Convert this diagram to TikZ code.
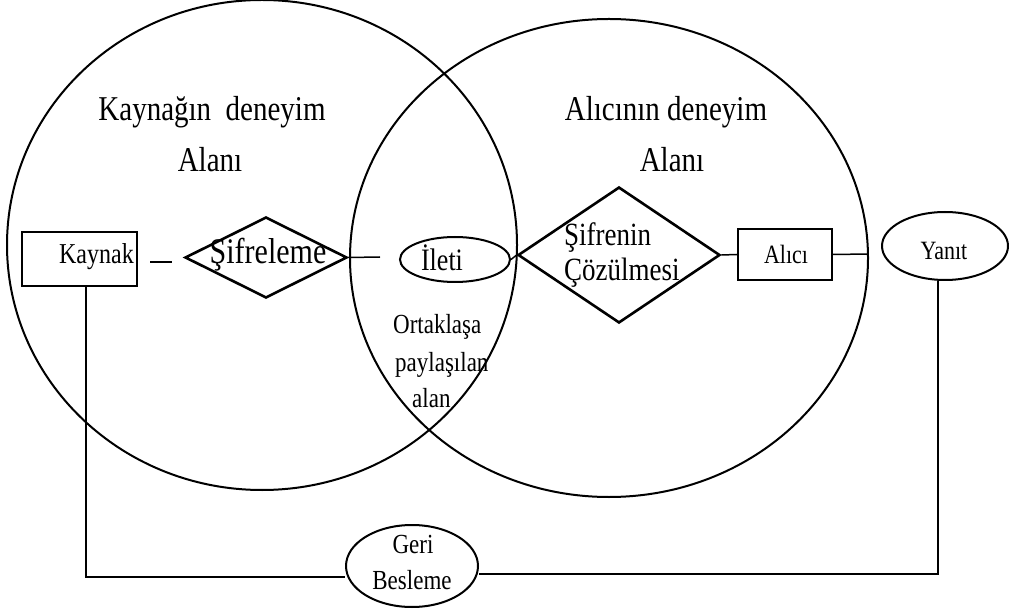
\documentclass[tikz,border=0pt]{standalone}
\usepackage{graphicx}
\usepackage{fontspec}
\setmainfont{Liberation Serif}
\usetikzlibrary{shapes.geometric}
% font size plus a slight vertical stretch of the lettering
\newcommand{\fsz}[2]{\fontsize{#1}{#2}\selectfont}
\newcommand{\tallw}[1]{\scalebox{1}[1.2]{#1}}

\begin{document}
\begin{tikzpicture}[x=1pt,y=-1pt,
  oval/.style={draw, line width=2pt, ellipse, inner sep=0pt},
  box/.style={draw, line width=1.9pt, rectangle, inner sep=0pt},
  rhomb/.style={draw, line width=2.6pt, diamond, inner sep=0pt},
  link/.style={line width=1.5pt},
  txt/.style={inner sep=0pt}]
\useasboundingbox (0,0) rectangle (1009,609);

% the two fields of experience
\node[oval, minimum width=510pt, minimum height=490pt] (srcfield) at (262,245) {};
\node[oval, minimum width=518pt, minimum height=478pt] (rcvfield) at (609,258) {};

\node[txt, font=\fsz{29}{34}] (srctitleA) at (212,112) {\tallw{Kaynağın\ \ deneyim}};
\node[txt, font=\fsz{29}{34}] (srctitleB) at (210,160) {\tallw{Alanı}};
\node[txt, font=\fsz{29}{34}] (rcvtitleA) at (666,112) {\tallw{Alıcının deneyim}};
\node[txt, font=\fsz{29}{34}] (rcvtitleB) at (672,160) {\tallw{Alanı}};

% shared area
\node[txt, anchor=west, font=\fsz{23}{27}] (shared1) at (393,327) {\tallw{Ortaklaşa}};
\node[txt, anchor=west, font=\fsz{23}{27}] (shared2) at (395,365) {\tallw{paylaşılan}};
\node[txt, anchor=west, font=\fsz{23}{27}] (shared3) at (412,398) {\tallw{alan}};

% source side
\node[box, minimum width=115pt, minimum height=54pt] (kaynak) at (79.5,259) {};
\node[txt, anchor=east, font=\fsz{24}{28}] (kaynaktxt) at (134,257) {\tallw{Kaynak}};
\coordinate (dashA) at (150,262);
\coordinate (dashB) at (172,262);
\draw[link] (dashA) -- (dashB);

\node[rhomb, minimum width=162pt, minimum height=81pt] (sifre) at (266,257.5) {};
\node[txt, font=\fsz{30}{34}] (sifretxt) at (268,255) {\tallw{Şifreleme}};
\coordinate (sifreEnd) at (380,257);
\draw[link] (sifre.east) -- (sifreEnd);

% message
\node[oval, minimum width=110pt, minimum height=45pt] (ileti) at (455,259.5) {};
\node[txt, font=\fsz{26}{30}] (iletitxt) at (442,258) {\tallw{İleti}};

% receiver side
\node[rhomb, minimum width=202pt, minimum height=136pt] (coz) at (619,255) {};
\node[txt, anchor=west, font=\fsz{27}{32}] (coztxtA) at (564,238) {\tallw{Şifrenin}};
\node[txt, anchor=west, font=\fsz{27}{32}] (coztxtB) at (564,273) {\tallw{Çözülmesi}};
\draw[link] (ileti.east) -- (coz.west);

\node[box, minimum width=94pt, minimum height=51pt] (alici) at (785,254.5) {};
\node[txt, font=\fsz{22}{26}] (alicitxt) at (786,254) {\tallw{Alıcı}};
\draw[link] (coz.east) -- (alici.west);
\coordinate (aliciEnd) at (868,254);
\draw[link] (alici.east) -- (aliciEnd);

\node[oval, minimum width=126pt, minimum height=68pt] (yanit) at (945,246) {};
\node[txt, font=\fsz{22}{26}] (yanittxt) at (944,251) {\tallw{Yanıt}};

% feedback loop
\node[oval, minimum width=132pt, minimum height=82pt] (geri) at (412,566) {};
\node[txt, font=\fsz{23}{27}] (geritxt1) at (413,544) {\tallw{Geri}};
\node[txt, font=\fsz{23}{27}] (geritxt2) at (412,580) {\tallw{Besleme}};

\coordinate (fbL) at (86,577);
\coordinate (fbR) at (938,574);
\draw[link] (kaynak.south -| fbL) -- (fbL) -- (geri.west |- fbL);
\draw[link] (geri.east |- fbR) -- (fbR) -- (yanit.south -| fbR);
\end{tikzpicture}
\end{document}
